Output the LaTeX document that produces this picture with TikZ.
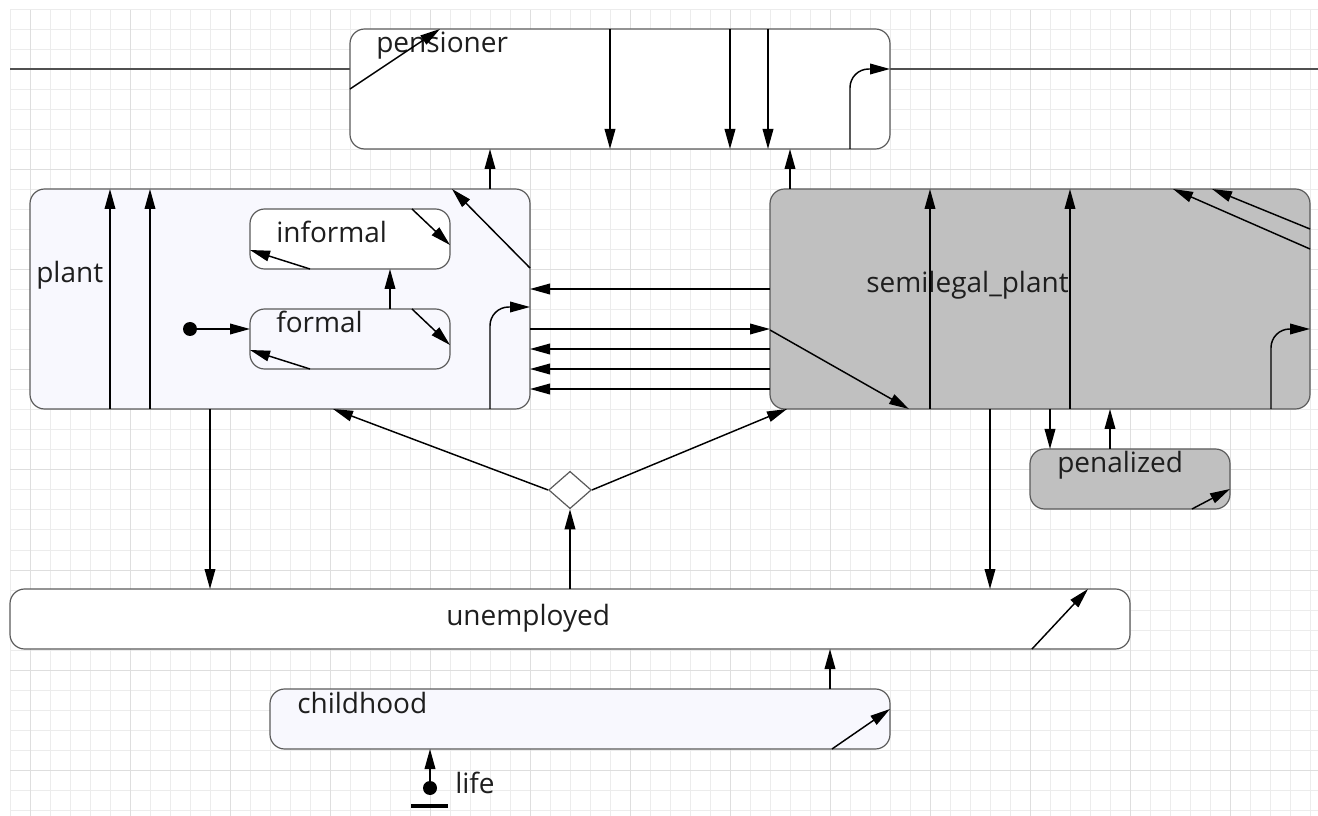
\documentclass[tikz,border=0pt]{standalone}
\usepackage{fontspec}
\setmainfont{Open Sans}
\usetikzlibrary{
  shapes.geometric,
  arrows.meta,
  calc
}
\definecolor{gridcolor}{RGB}{236, 236, 236}
\definecolor{gridmajorcolor}{RGB}{222, 222, 222}
\definecolor{bordercolor}{RGB}{90, 90, 90}
\definecolor{lightfill}{RGB}{248, 248, 254}
\definecolor{greyfill}{RGB}{192, 192, 192}
\definecolor{labelcolor}{RGB}{30, 30, 30}
\definecolor{linecolor}{RGB}{80, 80, 80}
\tikzset{
gridminor/.style={
  draw=gridcolor,
  line width=0.75pt
},
gridmajor/.style={
  draw=gridmajorcolor,
  line width=0.75pt
},
statebox/.style={
  draw=bordercolor,
  rounded corners=11pt,
  line width=0.9pt,
  inner sep=0pt,
  outer sep=0pt
},
plainstate/.style={
  statebox,
  fill=white
},
lightstate/.style={
  statebox,
  fill=lightfill
},
greystate/.style={
  statebox,
  fill=greyfill
},
statelabel/.style={
  font=\fontsize{21}{24}\selectfont,
  text=labelcolor,
  anchor=base west,
  inner sep=0pt
},
initdot/.style={
  circle,
  fill=black,
  minimum size=10.5pt,
  inner sep=0pt
},
choicebox/.style={
  diamond,
  draw=bordercolor,
  fill=white,
  line width=0.9pt,
  minimum width=32pt,
  minimum height=28pt,
  inner sep=0pt
},
boundary/.style={
  draw=linecolor,
  line width=1.1pt
},
arrow/.style={
  -{Triangle[length=15pt,width=8pt]},
  line width=1.1pt,
  draw=black
},
bendarrow/.style={
  arrow,
  rounded corners=14pt
}
}

\begin{document}
\begin{tikzpicture}[x=0.75pt,y=-0.75pt]
  \useasboundingbox (0,0) rectangle (1318,816);
  \foreach \gx in {10,30,...,1310} \draw[gridminor] (\gx,10) -- (\gx,816);
  \foreach \gy in {10,30,...,810} \draw[gridminor] (10,\gy) -- (1318,\gy);
  \foreach \gx in {30,130,...,1230} \draw[gridmajor] (\gx,10) -- (\gx,816);
  \foreach \gy in {70,170,...,770} \draw[gridmajor] (10,\gy) -- (1318,\gy);

  \coordinate (lineleft) at (10,69);
  \coordinate (lineright) at (1318,69);

  \node[plainstate, minimum width=405pt, minimum height=90pt] (pensioner) at (620,89) {};
  \node[lightstate, minimum width=375pt, minimum height=165pt] (plant) at (280,299) {};
  \node[plainstate, minimum width=150pt, minimum height=45pt] (informal) at (350,239) {};
  \node[lightstate, minimum width=150pt, minimum height=45pt] (formal) at (350,339) {};
  \node[greystate, minimum width=405pt, minimum height=165pt] (semilegal) at (1040,299) {};
  \node[greystate, minimum width=150pt, minimum height=45pt] (penalized) at (1130,479) {};
  \node[plainstate, minimum width=840pt, minimum height=45pt] (unemployed) at (570,619) {};
  \node[lightstate, minimum width=465pt, minimum height=45pt] (childhood) at (580,719) {};
  \node[choicebox] (choice) at (570,490) {};
  \node[initdot] (plantinit) at (190,329) {};
  \node[initdot] (lifeinit) at (430,788) {};

  \node[statelabel] (pensionerlabel) at ($(pensioner.north west)+(26,24)$) {pensioner};
  \node[statelabel] (plantlabel) at ($(plant.north west)+(6,94)$) {plant};
  \node[statelabel] (informallabel) at ($(informal.north west)+(26,34)$) {informal};
  \node[statelabel] (formallabel) at ($(formal.north west)+(26,24)$) {formal};
  \node[statelabel] (semilegallabel) at ($(semilegal.north west)+(96,104)$) {semilegal\_plant};
  \node[statelabel] (penalizedlabel) at ($(penalized.north west)+(27,24)$) {penalized};
  \node[statelabel] (unemployedlabel) at ($(unemployed.north west)+(436,36)$) {unemployed};
  \node[statelabel] (childhoodlabel) at ($(childhood.north west)+(27,24)$) {childhood};
  \node[statelabel] (lifelabel) at ($(lifeinit)+(25,5)$) {life};

  \draw[boundary] (lineleft) -- (lineleft -| pensioner.west);
  \draw[boundary] (lineright -| pensioner.east) -- (lineright);
  \draw[line width=2.8pt] ($(lifeinit)+(-19,18)$) -- ($(lifeinit)+(18,18)$);

  \draw[arrow] (pensioner.west) -- ($(pensioner.north west)+(90,0)$);
  \foreach \dx in {260,380,418}
    \draw[arrow] ($(pensioner.north west)+(\dx,0)$) -- ($(pensioner.south west)+(\dx,0)$);
  \draw[bendarrow] ($(pensioner.south east)+(-40,0)$) |- ($(pensioner.east)+(0,-20)$);

  \foreach \dx in {80,120}
    \draw[arrow] ($(plant.south west)+(\dx,0)$) -- ($(plant.north west)+(\dx,0)$);
  \draw[arrow] ($(plant.north east)+(0,79)$) -- ($(plant.north east)+(-78,0)$);
  \draw[bendarrow] ($(plant.south east)+(-40,0)$) |- ($(plant.east)+(0,8)$);
  \draw[arrow] ($(plant.north east)+(-40,0)$) -- ($(pensioner.south west)+(140,0)$);
  \draw[arrow] (plantinit) -- (plantinit -| formal.west);
  \draw[arrow] ($(formal.north west)+(140,0)$) -- ($(informal.south west)+(140,0)$);
  \foreach \s in {informal,formal} {
    \draw[arrow] ($(\s.north west)+(162,0)$) -- ($(\s.north east)+(0,36)$);
    \draw[arrow] ($(\s.south west)+(60,0)$) -- ($(\s.south west)+(0,-19)$);
  }

  \foreach \dx in {160,300}
    \draw[arrow] ($(semilegal.south west)+(\dx,0)$) -- ($(semilegal.north west)+(\dx,0)$);
  \draw[arrow] ($(semilegal.north east)+(0,40)$) -- ($(semilegal.north west)+(442,0)$);
  \draw[arrow] ($(semilegal.north east)+(0,60)$) -- ($(semilegal.north west)+(403,0)$);
  \draw[bendarrow] ($(semilegal.south east)+(-39,0)$) |- ($(semilegal.east)+(0,30)$);
  \draw[arrow] ($(semilegal.west)+(0,31)$) -- ($(semilegal.south west)+(139,0)$);
  \draw[arrow] ($(semilegal.north west)+(20,0)$) -- ($(pensioner.south west)+(440,0)$);

  \draw[arrow] ($(semilegal.west)+(0,-10)$) -- ($(plant.east)+(0,-10)$);
  \draw[arrow] ($(plant.east)+(0,30)$) -- ($(semilegal.west)+(0,30)$);
  \foreach \dy in {50,70,90}
    \draw[arrow] ($(semilegal.west)+(0,\dy)$) -- ($(plant.east)+(0,\dy)$);

  \draw[arrow] ($(semilegal.south west)+(280,0)$) -- ($(penalized.north west)+(20,0)$);
  \draw[arrow] ($(penalized.north west)+(80,0)$) -- ($(semilegal.south west)+(340,0)$);
  \draw[arrow] ($(penalized.south west)+(162,0)$) -- ($(penalized.north east)+(0,40)$);

  \draw[arrow] (choice.west) -- ($(plant.south west)+(303,0)$);
  \draw[arrow] (choice.east) -- ($(semilegal.south west)+(17,0)$);
  \draw[arrow] ($(unemployed.north west)+(560,0)$) -- (choice.south);

  \draw[arrow] ($(plant.south west)+(180,0)$) -- ($(unemployed.north west)+(200,0)$);
  \draw[arrow] ($(semilegal.south west)+(220,0)$) -- ($(unemployed.north west)+(980,0)$);
  \draw[arrow] ($(unemployed.south west)+(1022,0)$) -- ($(unemployed.north west)+(1078,0)$);

  \draw[arrow] ($(childhood.north west)+(560,0)$) -- ($(unemployed.south west)+(820,0)$);
  \draw[arrow] ($(childhood.south west)+(562,0)$) -- ($(childhood.north east)+(0,20)$);
  \draw[arrow] (lifeinit) -- (lifeinit |- childhood.south);
\end{tikzpicture}
\end{document}
